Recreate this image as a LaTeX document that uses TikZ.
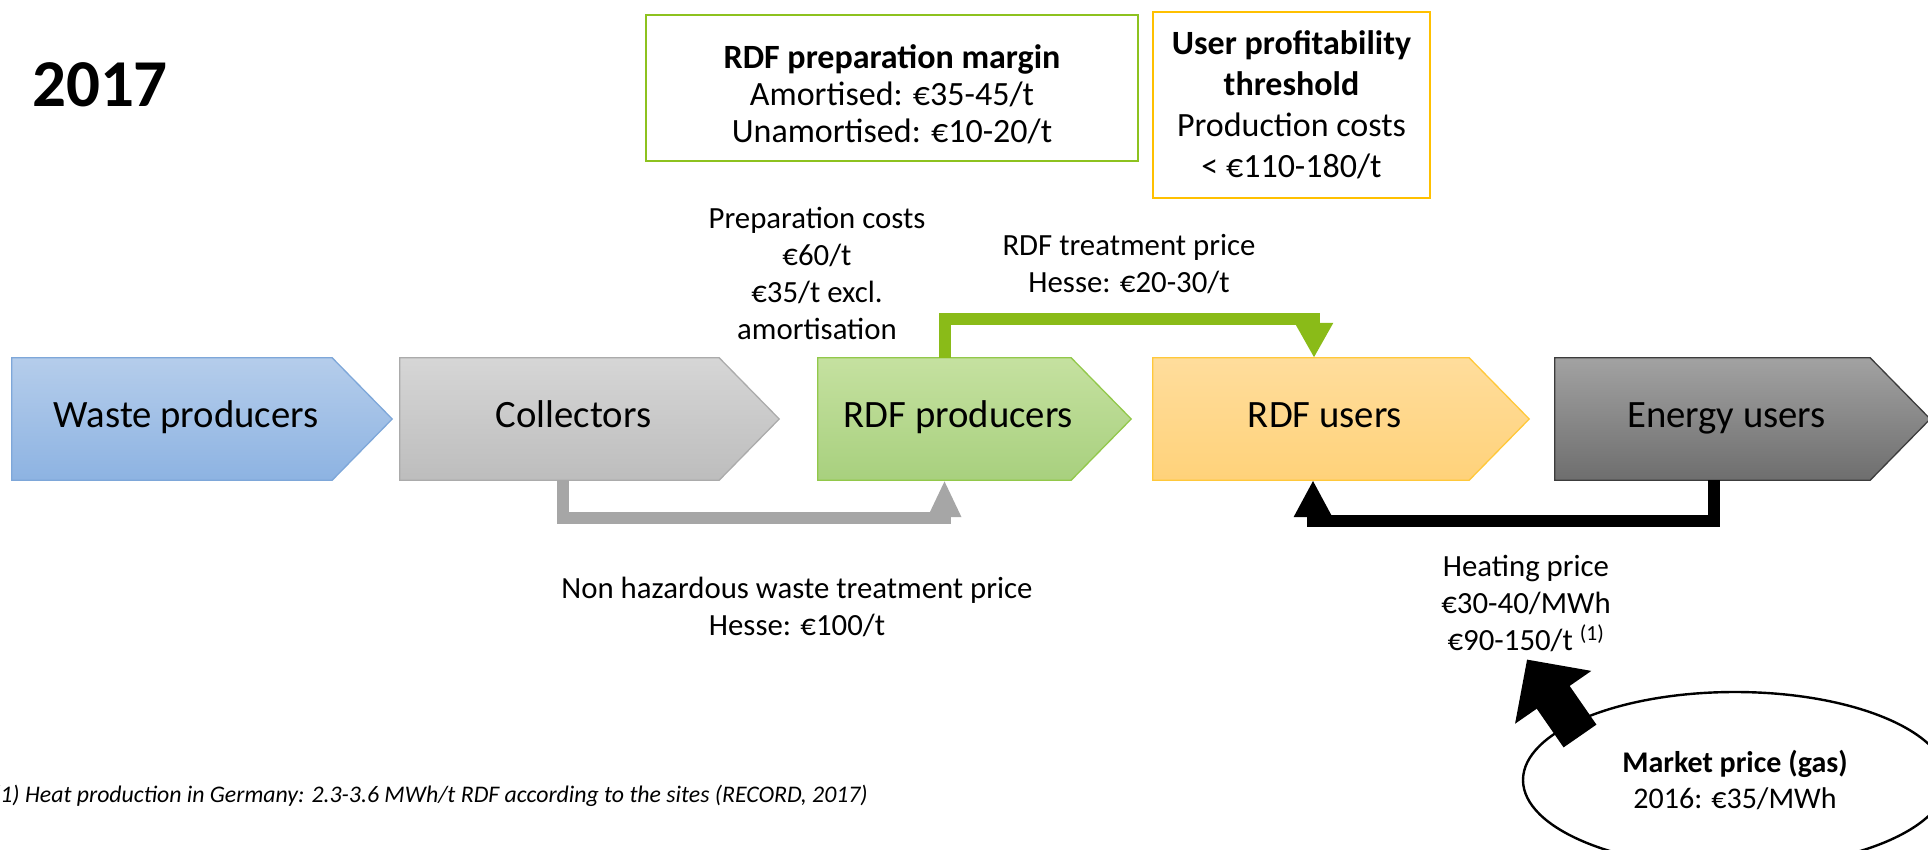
\documentclass[tikz,border=0pt]{standalone}
\usepackage{fontspec}
\setmainfont{Carlito}
\usetikzlibrary{arrows.meta,calc,backgrounds,shapes.geometric}
\definecolor{wpT}{HTML}{B5CDEB}
\definecolor{wpB}{HTML}{8DB3E2}
\definecolor{wpD}{HTML}{7EA7D9}
\definecolor{colT}{HTML}{D6D6D6}
\definecolor{colB}{HTML}{BDBDBD}
\definecolor{colD}{HTML}{ABABAB}
\definecolor{rdfpT}{HTML}{C5E1A0}
\definecolor{rdfpB}{HTML}{A8D07E}
\definecolor{rdfpD}{HTML}{92C84A}
\definecolor{rdfuT}{HTML}{FFDD9C}
\definecolor{rdfuB}{HTML}{FFD27A}
\definecolor{rdfuD}{HTML}{FFC83A}
\definecolor{euT}{HTML}{A2A2A2}
\definecolor{euB}{HTML}{6E6E6E}
\definecolor{euD}{HTML}{3C3C3C}
\definecolor{lgreen}{HTML}{8ABB18}
\definecolor{boxgreen}{HTML}{8DC21F}
\definecolor{boxyellow}{HTML}{FFC000}
\definecolor{conngray}{HTML}{A6A6A6}
\begin{document}
\begin{tikzpicture}[x=1pt,y=-1pt,
  chev/.style={inner sep=0pt, minimum height=122pt, text height=25pt, text depth=7.5pt,
               font=\fontsize{38.7}{46}\selectfont},
  info/.style={align=center, inner sep=0pt, font=\fontsize{30.8}{37}\selectfont},
  infobox/.style={align=center, inner sep=0pt, line width=2.6pt},
  conn/.style={line width=12pt}]
\useasboundingbox (0,0) rectangle (1928,849);

% title
\node[font=\fontsize{67}{72}\bfseries\selectfont, inner sep=0pt] (title) at (100,85) {2017};

% chevron bodies (text nodes)
\node[chev, minimum width=320pt] (wp)   at (186,419)    {Waste producers};
\node[chev, minimum width=319pt] (col)  at (573.5,419)  {Collectors};
\node[chev, minimum width=253pt] (rdfp) at (958.5,419)  {RDF producers};
\node[chev, minimum width=316pt] (rdfu) at (1325,419)   {RDF users};
\node[chev, minimum width=315pt] (eu)   at (1726.5,419) {Energy users};

\begin{pgfonlayer}{background}
\foreach \n/\t/\b/\d in {wp/wpT/wpB/wpD, col/colT/colB/colD, rdfp/rdfpT/rdfpB/rdfpD, rdfu/rdfuT/rdfuB/rdfuD, eu/euT/euB/euD}{
  \shadedraw[top color=\t, bottom color=\b, draw=\d, line width=1.3pt]
    ($(\n.north west)+(-14,0)$) -- ($(\n.north east)+(-14,0)$) -- ($(\n.east)+(46,0)$)
    -- ($(\n.south east)+(-14,0)$) -- ($(\n.south west)+(-14,0)$) -- cycle;
}
\end{pgfonlayer}

% top boxes
\node[infobox, draw=boxgreen, minimum width=492pt, minimum height=146pt,
      font=\fontsize{34}{37}\selectfont] (margin) at (892,88)
  {\rule{0pt}{36pt}\textbf{RDF preparation margin}\\Amortised: €35-45/t\\Unamortised: €10-20/t};
\node[infobox, draw=boxyellow, minimum width=277pt, minimum height=186pt,
      font=\fontsize{34}{41}\selectfont] (thresh) at (1291.5,105)
  {\textbf{User profitability}\\\textbf{threshold}\\Production costs\\< €110-180/t};

% info texts
\node[info] (prep) at (817,273) {Preparation costs\\€60/t\\€35/t excl.\\amortisation};
\node[info] (treat) at (1129,264) {RDF treatment price\\Hesse: €20-30/t};
\node[info] (nonhaz) at (797,607) {Non hazardous waste treatment price\\Hesse: €100/t};
\node[info] (heat) at (1526,603) {Heating price\\€30-40/MWh\\€90-150/t \textsuperscript{(1)}};

% connectors
\draw[conn, conngray, -{Triangle[length=37pt,width=31pt]}]
  ([xshift=-11pt]col.south) -- ++(0,38) -| ([xshift=-14pt]rdfp.south);
\draw[conn, lgreen, -{Triangle[length=35pt,width=36pt]}]
  ([xshift=-14pt]rdfp.north) -- ++(0,-39) -| ([xshift=-11pt]rdfu.north);
\draw[conn, black, -{Triangle[length=37pt,width=36pt]}]
  ([xshift=-13pt]eu.south) -- ++(0,41) -| ([xshift=-12pt]rdfu.south);

% market price ellipse and arrow
\node[ellipse, draw, line width=2.4pt, minimum width=424pt, minimum height=176pt, inner sep=0pt,
      align=center, font=\fontsize{30}{36.5}\selectfont] (market) at (1735,780)
  {\textbf{Market price (gas)}\\2016: €35/MWh};
\coordinate (mtail) at ($(market.center)+(-155,-44)$);
\draw[line width=40pt, -{Triangle[length=46pt,width=90pt]}]
  (mtail) -- ([xshift=1pt,yshift=-8pt]heat.south);

% footnote
\node[anchor=west, inner sep=0pt, font=\fontsize{23.8}{28}\itshape\selectfont] (foot) at (-7,796)
  {(1) Heat production in Germany: 2.3-3.6 MWh/t RDF according to the sites (RECORD, 2017)};
\end{tikzpicture}
\end{document}
